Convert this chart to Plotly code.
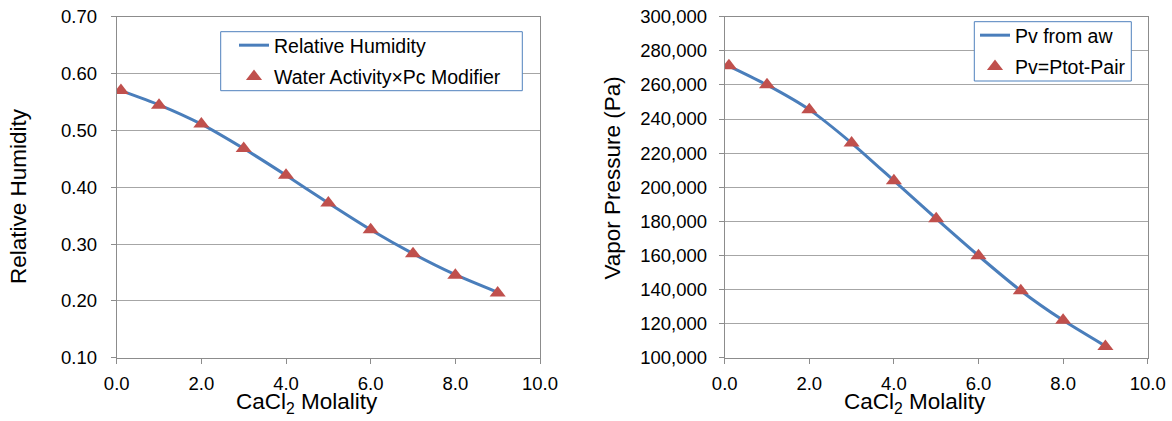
import plotly.graph_objects as go

molality = [0.1, 1, 2, 3, 4, 5, 6, 7, 8, 9]
rh_line = [0.570, 0.545, 0.511, 0.468, 0.421, 0.372, 0.325, 0.283, 0.246, 0.215]
rh_markers = [0.570, 0.544, 0.511, 0.468, 0.421, 0.372, 0.325, 0.283, 0.245, 0.214]
pv_line = [271000, 260000, 245500, 225900, 203800, 181500, 159800, 139300, 121900, 106800]
pv_markers = [271300, 260100, 245400, 225900, 203800, 181500, 159800, 139300, 121900, 106600]

x_ticks = [0, 2, 4, 6, 8, 10]
x_ticktext = ["0.0", "2.0", "4.0", "6.0", "8.0", "10.0"]
rh_ticks = [0.1, 0.2, 0.3, 0.4, 0.5, 0.6, 0.7]
rh_ticktext = ["0.10", "0.20", "0.30", "0.40", "0.50", "0.60", "0.70"]
pv_ticks = list(range(100000, 300001, 20000))
pv_ticktext = [f"{v:,}" for v in pv_ticks]

W, H = 1172, 421
FONT = "Liberation Sans, Arial, sans-serif"
BLUE = "#4A7EBB"
RED = "#C0504D"
GRID = "#A6A6A6"
AXIS = "#8C8C8C"
LEGEND_BORDER = "#4F81BD"

def px(x):
    return x / W

def py(y):
    return 1 - y / H

fig = go.Figure()
fig.add_trace(go.Scatter(x=molality, y=rh_line, mode="lines", name="Relative Humidity",
                         line=dict(color=BLUE, width=3, shape="spline", smoothing=0.6),
                         xaxis="x", yaxis="y", legend="legend", legendgroup="a"))
fig.add_trace(go.Scatter(x=molality, y=rh_markers, mode="markers", name="Water Activity×Pc Modifier",
                         marker=dict(symbol="triangle-up", size=14, color=RED),
                         xaxis="x", yaxis="y", legend="legend", legendgroup="b"))
fig.add_trace(go.Scatter(x=molality, y=pv_line, mode="lines", name="Pv from aw",
                         line=dict(color=BLUE, width=3, shape="spline", smoothing=0.6),
                         xaxis="x2", yaxis="y2", legend="legend2", legendgroup="c"))
fig.add_trace(go.Scatter(x=molality, y=pv_markers, mode="markers", name="Pv=Ptot-Pair",
                         marker=dict(symbol="triangle-up", size=14, color=RED),
                         xaxis="x2", yaxis="y2", legend="legend2", legendgroup="d"))

ydom = [py(357.7), py(16.7)]
tickfont = dict(family=FONT, size=18.5, color="#000000")
common_x = dict(range=[0, 10], tickvals=x_ticks, ticktext=x_ticktext, showgrid=False,
                showline=True, linecolor=AXIS, linewidth=1, mirror=True,
                ticks="outside", ticklen=5, tickcolor=AXIS, zeroline=False,
                automargin=False, ticklabelstandoff=4, tickfont=tickfont)
common_y = dict(showgrid=True, gridcolor=GRID, gridwidth=1,
                showline=True, linecolor=AXIS, linewidth=1, mirror=True,
                ticks="outside", ticklen=5, tickcolor=AXIS, zeroline=False,
                automargin=False, tickfont=tickfont)

legend_common = dict(bgcolor="rgba(0,0,0,0)", borderwidth=0,
                     font=dict(family=FONT, size=19.5, color="#000000"),
                     xanchor="left", yanchor="top", itemwidth=30, tracegroupgap=3)

title_font = dict(family=FONT, size=22.5, color="#000000")

fig.update_layout(
    width=W, height=H, margin=dict(l=0, r=0, t=0, b=0, autoexpand=False),
    paper_bgcolor="white", plot_bgcolor="white",
    xaxis=dict(domain=[px(116.7), px(540)], anchor="y", **common_x),
    yaxis=dict(domain=ydom, anchor="x", range=[0.1, 0.7], tickvals=rh_ticks,
               ticktext=rh_ticktext, ticklabelstandoff=10, **common_y),
    xaxis2=dict(domain=[px(724.7), px(1147.7)], anchor="y2", **common_x),
    yaxis2=dict(domain=ydom, anchor="x2", range=[100000, 300000], tickvals=pv_ticks,
                ticktext=pv_ticktext, ticklabelstandoff=8, **common_y),
    legend=dict(x=px(234), y=py(26), **legend_common),
    legend2=dict(x=px(975), y=py(16), **legend_common),
    showlegend=True,
    shapes=[
        dict(type="rect", xref="paper", yref="paper", x0=px(220.7), x1=px(522.3),
             y0=py(90.7), y1=py(31.7), fillcolor="white",
             line=dict(color=LEGEND_BORDER, width=1), layer="above"),
        dict(type="rect", xref="paper", yref="paper", x0=px(974.3), x1=px(1131.3),
             y0=py(81), y1=py(21.7), fillcolor="white",
             line=dict(color=LEGEND_BORDER, width=1), layer="above"),
    ],
    annotations=[
        dict(text="Relative Humidity", x=px(18), y=py(196), xref="paper", yref="paper",
             textangle=-90, showarrow=False, font=title_font,
             xanchor="center", yanchor="middle"),
        dict(text="CaCl<sub>2</sub> Molality", x=px(307), y=py(403), xref="paper", yref="paper",
             showarrow=False, font=title_font, xanchor="center", yanchor="middle"),
        dict(text="Vapor Pressure (Pa)", x=px(612.3), y=py(178.3), xref="paper", yref="paper",
             textangle=-90, showarrow=False, font=title_font,
             xanchor="center", yanchor="middle"),
        dict(text="CaCl<sub>2</sub> Molality", x=px(915.4), y=py(403), xref="paper", yref="paper",
             showarrow=False, font=title_font, xanchor="center", yanchor="middle"),
    ],
)

fig.write_html("out.html")
